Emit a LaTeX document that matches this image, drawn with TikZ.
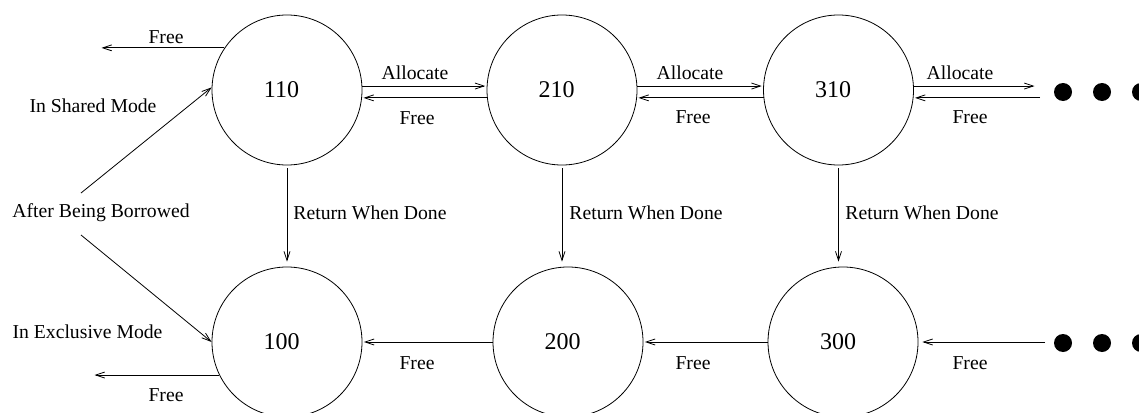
\documentclass[tikz,border=0pt]{standalone}
\usepackage{fontspec}
\setmainfont{Liberation Serif}
\usetikzlibrary{arrows.meta}
\begin{document}
\begin{tikzpicture}[x=1pt,y=-1pt,
  line width=0.8pt,
  >={Straight Barb[length=9pt,width=6pt]},
  state/.style={circle,draw,minimum size=150pt,inner sep=0pt},
  num/.style={font=\fontsize{24}{28}\selectfont,inner sep=0pt},
  lbl/.style={font=\fontsize{19.7}{22}\selectfont,inner sep=0pt},
  dot/.style={circle,fill,minimum size=18pt,inner sep=0pt},
  tip/.style={->,shorten >=1.5pt}]
\useasboundingbox (0,0) rectangle (1139,412);
\clip (0,0) rectangle (1139,412);

% shared-mode states (top row)
\node[state,label={[num,xshift=-5.5pt]center:110}] (s110) at (287,90) {};
\node[state,label={[num,xshift=-5.5pt]center:210}] (s210) at (562,90) {};
\node[state,label={[num,xshift=-5.5pt]center:310}] (s310) at (838.5,90) {};
% exclusive-mode states (bottom row)
\node[state,label={[num,xshift=-5.5pt]center:100}] (s100) at (287,342) {};
\node[state,label={[num,xshift=-5.5pt]center:200}] (s200) at (568,342) {};
\node[state,label={[num,xshift=-5pt]center:300}] (s300) at (843,342) {};

% continuation dots
\node[dot] (d1) at (1063,92) {};
\node[dot] (d2) at (1102,92) {};
\node[dot] (d3) at (1141,92) {};
\node[dot] (e1) at (1063,343) {};
\node[dot] (e2) at (1102,343) {};
\node[dot] (e3) at (1141,343) {};

% free ends of the open arrows
\coordinate (fl) at (100,49);
\coordinate (fb) at (93,375);
\coordinate (ra) at (1036,86);
\coordinate (rf) at (1040,99);
\coordinate (bf) at (1045,342);
\coordinate (ab1) at (81,193);
\coordinate (ab2) at (81,235);

% allocate / free between shared states
\draw[tip] (s110.3) -- (s210.177);
\draw[tip] (s210.186.9) -- (s110.-6.9);
\draw[tip] (s210.3) -- (s310.177);
\draw[tip] (s310.186.9) -- (s210.-6.9);
\draw[tip] (s310.3) -- (s310.3 -| ra);
\draw[tip] (s310.-6.9 -| rf) -- (s310.-6.9);

\node[lbl] at (415,73) {Allocate};
\node[lbl] at (417,118) {Free};
\node[lbl] at (690,73) {Allocate};
\node[lbl] at (693,117) {Free};
\node[lbl] at (960,73) {Allocate};
\node[lbl] at (970,117) {Free};

% leaving / entering the chain
\draw[tip] (s110.146.9) -- (s110.146.9 -| fl);
\node[lbl] at (166,37) {Free};
\node[lbl] at (93,106) {In Shared Mode};
\node[lbl] at (101,213) {After Being Borrowed};
\draw[->] (ab1) -- (s110.178.5);
\draw[->] (ab2) -- (s100.west);
\node[lbl] at (87.5,332) {In Exclusive Mode};
\draw[tip] (s100.206.1) -- (s100.206.1 -| fb);
\node[lbl] at (166,395) {Free};

% return when done
\draw[->,shorten <=3pt,shorten >=5pt] (s110.south) -- (s100.north);
\draw[->,shorten <=3pt,shorten >=5pt] (s210.south) -- (s210.south |- s200.north);
\draw[->,shorten <=3pt,shorten >=5pt] (s310.south) -- (s310.south |- s300.north);
\node[lbl,anchor=west] at (293,213) {Return When Done};
\node[lbl,anchor=west] at (569,213) {Return When Done};
\node[lbl,anchor=west] at (845,213) {Return When Done};

% free between exclusive states
\draw[tip] (s200.west) -- (s100.east);
\draw[tip] (s300.west) -- (s200.east);
\draw[->,shorten >=4pt] (bf) -- (s300.east);
\node[lbl] at (417,363) {Free};
\node[lbl] at (693,363) {Free};
\node[lbl] at (970,363) {Free};
\end{tikzpicture}
\end{document}
